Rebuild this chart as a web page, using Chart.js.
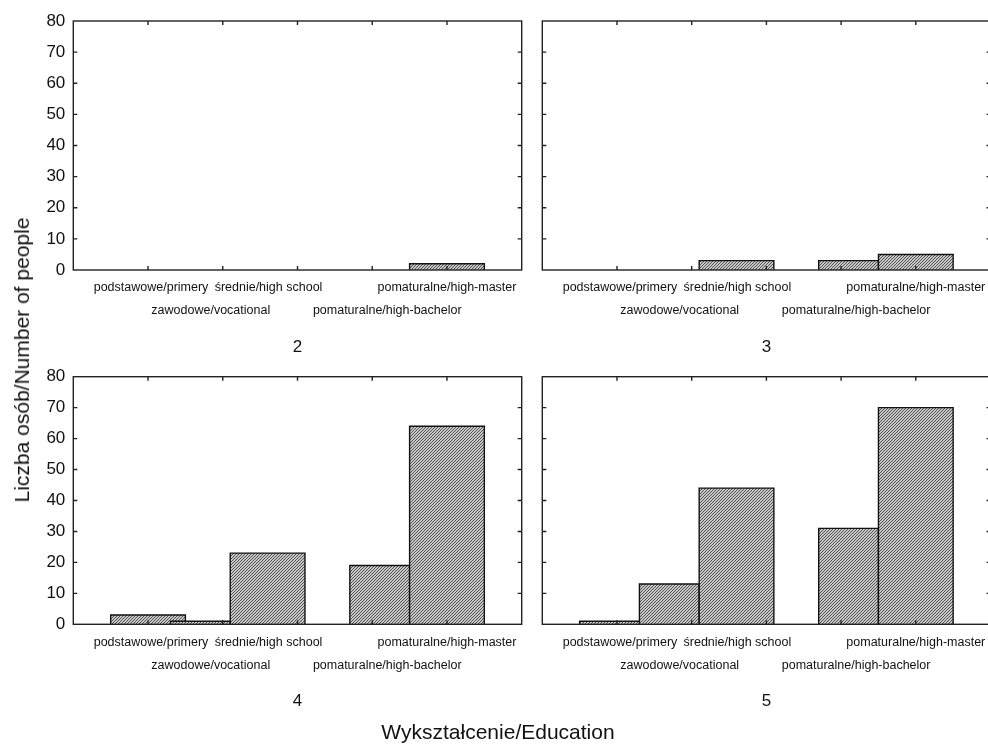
<!DOCTYPE html>
<html>
<head>
<meta charset="utf-8">
<script src="https://cdn.jsdelivr.net/npm/chart.js@4.4.1/dist/chart.umd.min.js"></script>
<style>
  html, body { margin: 0; padding: 0; background: #fff; overflow: hidden; width: 988px; height: 745px; }
  canvas { position: absolute; }
  .title { position: absolute; font-family: "Liberation Sans", Arial, sans-serif; font-size: 21px; color: #111; white-space: nowrap; }
</style>
</head>
<body>
<canvas id="p2" width="530" height="362" style="left:0;top:0"></canvas>
<canvas id="p3" width="462" height="362" style="left:530px;top:0"></canvas>
<canvas id="p4" width="530" height="390" style="left:0;top:355px"></canvas>
<canvas id="p5" width="462" height="390" style="left:530px;top:355px"></canvas>
<div class="title" id="ytitle" style="left:22px;top:360px;transform:translate(-50%,-50%) rotate(-90deg)">Liczba osób/Number of people</div>
<div class="title" id="xtitle" style="left:498px;top:732px;transform:translate(-50%,-50%)">Wykształcenie/Education</div>
<script>
// categories and histogram bin edges (x axis runs 0..6, categories sit at 1..5)
const binLabels = ['podstawowe/primery', 'zawodowe/vocational', 'średnie/high school', 'pomaturalne/high-bachelor', 'pomaturalne/high-master'];
const binStart = [0.5, 1.3, 2.1, 3.7, 4.5];
const binEnd = [1.5, 2.1, 3.1, 4.5, 5.5];

// counts per panel
const counts2 = [0, 0, 0, 0, 2];
const counts3 = [0, 0, 3, 3, 5];
const counts4 = [3, 1, 23, 19, 64];
const counts5 = [1, 13, 44, 31, 70];

const yMax = 80;
const yStep = 10;

const FONT = '"Liberation Sans", Arial, sans-serif';
// staggered category labels are nudged sideways like in the original
const labelShift = [3, -12, -29, 15, 0];

function hatchPattern() {
	const s = 3;
	const c = document.createElement('canvas');
	c.width = s; c.height = s;
	const g = c.getContext('2d');
	g.fillStyle = '#c9c9c9';
	g.fillRect(0, 0, s, s);
	g.strokeStyle = '#505050';
	g.lineWidth = 1;
	g.beginPath();
	g.moveTo(0, s); g.lineTo(s, 0);
	g.moveTo(-1, 1); g.lineTo(1, -1);
	g.moveTo(s - 1, s + 1); g.lineTo(s + 1, s - 1);
	g.stroke();
	return document.createElement('canvas').getContext('2d').createPattern(c, 'repeat');
}

const framePlugin = {
	id: 'frame',
	afterDraw(chart, args, opts) {
		const { ctx, chartArea: a, scales: { x, y } } = chart;
		ctx.save();
		ctx.strokeStyle = '#222';
		ctx.lineWidth = 1.4;
		ctx.strokeRect(a.left, a.top, a.right - a.left, a.bottom - a.top);
		ctx.beginPath();
		for (let i = 1; i <= binLabels.length; i++) {
			const px = x.getPixelForValue(i);
			ctx.moveTo(px, a.bottom); ctx.lineTo(px, a.bottom - 4);
			ctx.moveTo(px, a.top); ctx.lineTo(px, a.top + 4);
		}
		for (let v = yStep; v < yMax; v += yStep) {
			const py = y.getPixelForValue(v);
			ctx.moveTo(a.left, py); ctx.lineTo(a.left + 4, py);
			ctx.moveTo(a.right, py); ctx.lineTo(a.right - 4, py);
		}
		ctx.stroke();

		ctx.fillStyle = '#111';
		ctx.textAlign = 'center';
		ctx.textBaseline = 'middle';
		ctx.font = '12.5px ' + FONT;
		binLabels.forEach((lab, i) => {
			const px = x.getPixelForValue(i + 1) + labelShift[i];
			ctx.fillText(lab, px, a.bottom + (i % 2 === 0 ? 18 : 41));
		});
		ctx.font = '17px ' + FONT;
		ctx.fillText(opts.name, x.getPixelForValue(3), a.bottom + 77);
		ctx.restore();
	}
};

function makePanel(id, counts, name, showY, padding) {
	const hatch = hatchPattern();
	const datasets = binLabels.map((lab, i) => ({
		label: lab,
		data: counts[i] > 0 ? [
			{ x: binStart[i], y: 0 },
			{ x: binStart[i], y: counts[i] },
			{ x: binEnd[i], y: counts[i] },
			{ x: binEnd[i], y: 0 }
		] : [],
		fill: 'origin',
		backgroundColor: hatch,
		borderColor: '#111',
		borderWidth: 1.4,
		pointRadius: 0,
		tension: 0,
		order: binLabels.length - i
	}));

	new Chart(document.getElementById(id), {
		type: 'line',
		data: { datasets },
		options: {
			responsive: false,
			animation: false,
			layout: { padding },
			plugins: {
				legend: { display: false },
				tooltip: { enabled: false },
				frame: { name }
			},
			scales: {
				x: { type: 'linear', min: 0, max: 6, display: false },
				y: {
					min: 0,
					max: yMax,
					display: showY,
					grid: { display: false, drawTicks: false },
					border: { display: false },
					ticks: { stepSize: yStep, padding: 8, color: '#111', font: { family: FONT, size: 17 } },
					afterFit: (scale) => { scale.width = showY ? 73.3 : 0; }
				}
			}
		},
		plugins: [framePlugin]
	});
}

makePanel('p2', counts2, '2', true, { left: 0, right: 8.3, top: 21, bottom: 92 });
makePanel('p3', counts3, '3', false, { left: 12.3, right: 1.5, top: 21, bottom: 92 });
makePanel('p4', counts4, '4', true, { left: 0, right: 8.3, top: 21.7, bottom: 120.7 });
makePanel('p5', counts5, '5', false, { left: 12.3, right: 1.5, top: 21.7, bottom: 120.7 });
</script>
</body>
</html>
